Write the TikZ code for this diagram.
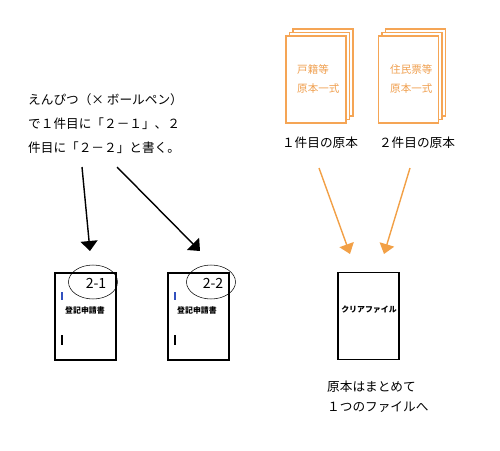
\documentclass[tikz,border=0pt]{standalone}
\usepackage{fontspec}
\setmainfont{Noto Sans CJK JP}
\usepackage{xcolor}
\usetikzlibrary{arrows.meta, shapes.geometric}

\definecolor{paperorange}{RGB}{245,165,85}
\definecolor{inkorange}{RGB}{240,160,80}
\definecolor{arroworange}{RGB}{242,160,70}
\definecolor{markblue}{RGB}{50,80,190}

\begin{document}
\begin{tikzpicture}[
    x=0.02cm, y=-0.02cm,
    form/.style={rectangle, draw, line width=0.7pt, fill=white, minimum width=1.22cm, minimum height=1.74cm, inner sep=0pt},
    original/.style={rectangle, draw=paperorange, line width=0.9pt, fill=white, minimum width=1.2cm, minimum height=1.74cm, inner sep=0pt},
    stamp/.style={ellipse, draw, line width=0.3pt, minimum width=0.98cm, minimum height=0.68cm, inner sep=0pt},
    formtext/.style={font=\fontsize{4.5}{5}\selectfont\bfseries},
    origtext/.style={font=\fontsize{6}{10.5}\selectfont, text=inkorange, align=left, anchor=west},
    note/.style={font=\fontsize{7.2}{13.6}\selectfont, align=left},
    pencilarrow/.style={-{Triangle[width=0.34cm, length=0.2cm]}, line width=0.8pt},
    filearrow/.style={-{Triangle[width=0.3cm, length=0.2cm]}, line width=0.8pt, draw=arroworange, fill=arroworange}
  ]

    \useasboundingbox (0,0) rectangle (500,450);

    % Instruction
    \node[note, anchor=west] (instr) at (22,124) {えんぴつ（× ボールペン）\\で１件目に「２－１」、２\\件目に「２－２」と書く。};

    % Application forms
    \node[form] (form1) at (85.5,316.5) {};
    \node[form] (form2) at (198.5,316.5) {};
    \node[formtext] (title1) at (85,310) {登記申請書};
    \node[formtext] (title2) at (197,310) {登記申請書};
    \draw[markblue, line width=0.6pt] (62,292) -- (62,300);
    \draw[markblue, line width=0.6pt] (175,292) -- (175,300);
    \draw[line width=0.6pt] (62,335) -- (62,345);
    \draw[line width=0.6pt] (175,335) -- (175,345);
    \node[stamp] (stamp1) at (93,282) {};
    \node[stamp] (stamp2) at (211,282) {};
    \node[font=\fontsize{8}{9}\selectfont] (num1) at (96,283) {2-1};
    \node[font=\fontsize{8}{9}\selectfont] (num2) at (213,283) {2-2};

    % Originals
    \node[original] (koseki3) at (323,72.5) {};
    \node[original] (koseki2) at (319.5,76) {};
    \node[original] (koseki) at (316,79.5) {};
    \node[original] (jumin3) at (415.5,72.5) {};
    \node[original] (jumin2) at (412,76) {};
    \node[original] (jumin) at (408.5,79.5) {};
    \node[origtext] (kosekitext) at (291,79) {戸籍等\\原本一式};
    \node[origtext] (jumintext) at (384,79) {住民票等\\原本一式};
    \node[note] (first) at (320,143) {１件目の原本};
    \node[note] (second) at (417,143) {２件目の原本};

    % Clear file
    \node[form] (clearfile) at (368.5,316) {};
    \node[formtext] (cliptext) at (369,310) {クリアファイル};
    \node[font=\fontsize{7.2}{11.3}\selectfont, align=left, anchor=west] (together) at (321,397) {原本はまとめて\\１つのファイルへ};

    % Arrows
    \coordinate (from1) at (82,167);
    \coordinate (to1) at (90,251);
    \coordinate (from2) at (117,167);
    \coordinate (to2) at (200,251);
    \coordinate (from3) at (319,168);
    \coordinate (to3) at (350,254);
    \coordinate (from4) at (410,168);
    \coordinate (to4) at (384,254);
    \draw[pencilarrow] (from1) -- (to1);
    \draw[pencilarrow] (from2) -- (to2);
    \draw[filearrow] (from3) -- (to3);
    \draw[filearrow] (from4) -- (to4);

  \end{tikzpicture}
\end{document}
